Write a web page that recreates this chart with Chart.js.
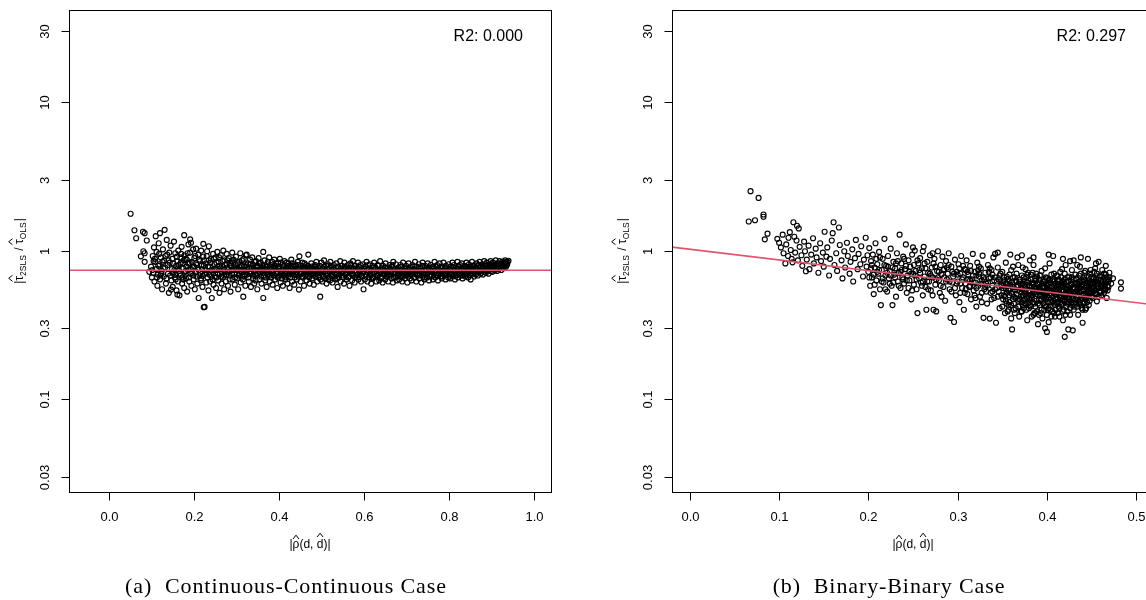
<!DOCTYPE html>
<html>
<head>
<meta charset="utf-8">
<script src="https://cdn.jsdelivr.net/npm/chart.js@4.4.1/dist/chart.umd.min.js"></script>
<style>
html, body { margin: 0; padding: 0; background: #fff; overflow: hidden; }
#wrap { position: relative; width: 1146px; height: 600px; overflow: hidden; }
canvas { position: absolute; top: 0; }
#cLeft { left: 0; }
#cRight { left: 576px; }
.cap { position: absolute; top: 575px; width: 500px; text-align: center; white-space: pre;
       font-family: "Liberation Serif", "Times New Roman", serif; font-size: 22px; line-height: 22px;
       letter-spacing: 0.9px; color: #000; }
</style>
</head>
<body>
<div id="wrap">
  <canvas id="cLeft" width="576" height="600"></canvas>
  <canvas id="cRight" width="600" height="600"></canvas>
  <div class="cap" style="left:36px">(a)  Continuous-Continuous Case</div>
  <div class="cap" style="left:639px">(b)  Binary-Binary Case</div>
</div>
<script>
// axis ticks (shared log y axis)
const yTicks = [0.03, 0.1, 0.3, 1, 3, 10, 30];
const yTickLabels = ['0.03', '0.1', '0.3', '1', '3', '10', '30'];
const contXTicks = [0, 0.2, 0.4, 0.6, 0.8, 1.0];
const contXLabels = ['0.0', '0.2', '0.4', '0.6', '0.8', '1.0'];
const binXTicks = [0, 0.1, 0.2, 0.3, 0.4, 0.5];
const binXLabels = ['0.0', '0.1', '0.2', '0.3', '0.4', '0.5'];

// fitted lines (log10 y linear in x)
const contFitX = [-0.2, 1.2];
const contFitY = [0.737, 0.737];
const binFitX = [-0.1, 0.7];
const binFitY = [1.204, 0.321];

const contR2 = 'R2: 0.000';
const binR2 = 'R2: 0.297';

// (a) continuous-continuous: [|rho|, |tau2sls/tauols|]
const contPts = [
  [0.052,1.77],[0.061,1.37],[0.065,1.21],[0.081,1.34],[0.085,1.31],[0.090,1.17],[0.082,0.99],[0.085,0.96],[0.076,0.915],[0.085,0.84],[0.096,0.72],
  [0.100,0.78],[0.102,0.66],[0.104,0.92],[0.105,0.71],[0.106,0.85],[0.107,1.05],[0.108,0.62],[0.110,0.84],[0.111,1.25],[0.112,0.75],[0.113,0.98],[0.115,0.58],[0.116,0.69],[0.118,1.12],[0.120,0.81],[0.121,1.31],[0.121,0.64],[0.123,0.90],[0.125,0.73],[0.126,0.55],[0.128,1.02],[0.130,0.67],[0.131,0.86],[0.132,1.38],[0.133,0.77],[0.135,0.60],[0.137,1.18],[0.138,0.94],[0.140,0.70],[0.142,0.52],[0.144,0.83],[0.146,1.08],[0.147,0.547],[0.148,0.63],[0.149,0.75],
  [0.150,0.88],[0.151,0.57],[0.153,0.71],[0.154,1.15],[0.156,0.66],[0.157,0.96],[0.159,0.79],[0.160,0.54],[0.162,0.85],[0.162,0.506],[0.163,0.62],[0.164,1.00],[0.166,0.73],[0.167,0.50],[0.169,0.90],[0.170,0.68],[0.172,1.06],[0.173,0.60],[0.175,0.82],[0.176,0.76],[0.178,0.56],[0.178,1.27],[0.179,0.93],[0.181,0.88],[0.182,0.65],[0.184,0.87],[0.185,0.53],[0.187,0.74],[0.188,1.10],[0.190,0.62],[0.192,1.19],[0.192,0.97],[0.193,0.70],[0.194,1.13],[0.195,0.58],[0.196,0.84],[0.198,0.77],[0.199,1.02],
  [0.200,0.64],[0.202,0.89],[0.203,0.55],[0.205,0.72],[0.206,1.03],[0.208,0.80],[0.209,0.60],[0.211,0.94],[0.212,0.48],[0.214,0.68],[0.215,0.85],[0.217,0.63],[0.218,1.00],[0.220,0.75],[0.221,0.57],[0.223,1.11],[0.223,0.91],[0.224,0.416],[0.226,0.418],[0.227,0.70],[0.229,0.82],[0.230,0.61],[0.232,0.99],[0.233,0.66],[0.235,0.54],[0.236,1.07],[0.238,0.78],[0.239,0.62],[0.241,0.88],[0.243,0.48],[0.244,0.72],[0.246,0.95],[0.247,0.59],[0.249,0.81],
  [0.250,0.67],[0.252,0.90],[0.253,0.56],[0.255,0.74],[0.256,0.98],[0.258,0.63],[0.259,0.84],[0.261,0.52],[0.262,0.70],[0.264,0.93],[0.266,0.60],[0.267,0.79],[0.269,0.66],[0.270,1.00],[0.272,0.55],[0.273,0.86],[0.275,0.72],[0.276,0.62],[0.278,0.95],[0.279,0.77],[0.281,0.58],[0.283,0.89],[0.284,0.68],[0.286,0.82],[0.287,0.53],[0.289,0.74],[0.291,0.97],[0.292,0.64],[0.294,0.87],[0.296,0.70],[0.297,0.59],[0.299,0.80],
  [0.300,0.91],[0.302,0.65],[0.303,0.76],[0.305,0.55],[0.307,0.84],[0.308,0.70],[0.310,0.96],[0.311,0.61],[0.313,0.79],[0.315,0.67],[0.317,0.49],[0.318,0.88],[0.320,0.73],[0.322,0.58],[0.323,0.93],[0.325,0.94],[0.326,0.69],[0.328,0.82],[0.330,0.62],[0.331,0.76],[0.333,0.87],[0.335,0.57],[0.336,0.71],[0.338,0.90],[0.340,0.65],[0.341,0.80],[0.343,0.60],[0.345,0.74],[0.347,0.85],[0.348,0.68],
  [0.350,0.55],[0.352,0.78],[0.353,0.89],[0.355,0.64],[0.357,0.72],[0.358,0.83],[0.360,0.60],[0.362,0.76],[0.364,0.98],[0.364,0.48],[0.366,0.68],[0.367,0.86],[0.369,0.63],[0.371,0.74],[0.372,0.57],[0.374,0.81],[0.376,0.69],[0.378,0.90],[0.379,0.62],[0.381,0.77],[0.383,0.66],[0.385,0.84],[0.386,0.59],[0.388,0.72],[0.390,0.87],[0.392,0.64],[0.393,0.79],[0.395,0.70],[0.397,0.56],[0.399,0.83],
  [0.400,0.67],[0.402,0.75],[0.403,0.88],[0.405,0.61],[0.407,0.71],[0.409,0.80],[0.410,0.58],[0.412,0.68],[0.414,0.85],[0.416,0.64],[0.418,0.76],[0.420,0.70],[0.421,0.60],[0.423,0.82],[0.425,0.73],[0.426,0.56],[0.428,0.66],[0.430,0.87],[0.432,0.62],[0.434,0.78],[0.435,0.69],[0.437,0.59],[0.439,0.81],[0.441,0.72],[0.443,0.64],[0.445,0.84],[0.447,0.67],[0.448,0.547],[0.449,0.915],
  [0.450,0.76],[0.452,0.62],[0.454,0.70],[0.456,0.83],[0.458,0.66],[0.460,0.58],[0.462,0.74],[0.464,0.80],[0.466,0.63],[0.468,0.69],[0.470,0.94],[0.471,0.77],[0.473,0.60],[0.475,0.72],[0.477,0.82],[0.479,0.65],[0.481,0.70],[0.483,0.59],[0.485,0.78],[0.487,0.67],[0.489,0.84],[0.491,0.62],[0.493,0.73],[0.495,0.68],[0.497,0.79],[0.498,0.49],[0.499,0.64],
  [0.500,0.71],[0.501,0.83],[0.503,0.62],[0.504,0.76],[0.506,0.68],[0.507,0.86],[0.509,0.65],[0.510,0.73],[0.512,0.79],[0.513,0.60],[0.515,0.70],[0.516,0.81],[0.518,0.66],[0.519,0.75],[0.521,0.63],[0.522,0.84],[0.524,0.69],[0.525,0.77],[0.527,0.61],[0.528,0.72],[0.530,0.80],[0.531,0.67],[0.533,0.74],[0.534,0.64],[0.536,0.82],[0.537,0.70],[0.539,0.57],[0.540,0.78],[0.542,0.66],[0.543,0.73],[0.545,0.85],[0.546,0.62],[0.548,0.71],[0.549,0.79],
  [0.551,0.68],[0.552,0.75],[0.554,0.60],[0.555,0.83],[0.557,0.69],[0.558,0.76],[0.560,0.64],[0.561,0.72],[0.563,0.80],[0.564,0.66],[0.566,0.74],[0.567,0.58],[0.569,0.82],[0.570,0.70],[0.572,0.77],[0.573,0.63],[0.575,0.85],[0.576,0.68],[0.578,0.73],[0.579,0.61],[0.581,0.79],[0.582,0.71],[0.584,0.66],[0.585,0.76],[0.587,0.83],[0.588,0.64],[0.590,0.72],[0.591,0.69],[0.593,0.80],[0.594,0.62],[0.596,0.75],[0.597,0.67],[0.599,0.81],
  [0.600,0.55],[0.601,0.73],[0.603,0.64],[0.604,0.78],[0.606,0.69],[0.607,0.84],[0.609,0.62],[0.610,0.71],[0.612,0.76],[0.613,0.66],[0.615,0.81],[0.616,0.70],[0.618,0.60],[0.619,0.74],[0.621,0.79],[0.622,0.65],[0.624,0.72],[0.625,0.83],[0.627,0.67],[0.628,0.77],[0.630,0.62],[0.631,0.70],[0.633,0.80],[0.634,0.68],[0.636,0.74],[0.637,0.63],[0.639,0.85],[0.640,0.71],[0.642,0.66],[0.643,0.76],[0.645,0.61],[0.646,0.79],[0.648,0.69],[0.649,0.73],
  [0.651,0.64],[0.652,0.82],[0.654,0.70],[0.655,0.67],[0.657,0.77],[0.658,0.62],[0.660,0.74],[0.661,0.80],[0.663,0.68],[0.664,0.72],[0.666,0.65],[0.667,0.78],[0.669,0.61],[0.670,0.84],[0.672,0.70],[0.673,0.75],[0.675,0.66],[0.676,0.81],[0.678,0.63],[0.679,0.73],[0.681,0.69],[0.682,0.77],[0.684,0.64],[0.685,0.71],[0.687,0.80],[0.688,0.67],[0.690,0.74],[0.691,0.62],[0.693,0.83],[0.694,0.70],[0.696,0.76],[0.697,0.65],[0.699,0.72],
  [0.700,0.79],[0.701,0.68],[0.703,0.61],[0.704,0.74],[0.706,0.82],[0.707,0.70],[0.709,0.65],[0.710,0.77],[0.712,0.72],[0.713,0.63],[0.715,0.80],[0.716,0.69],[0.718,0.75],[0.719,0.66],[0.721,0.84],[0.722,0.71],[0.724,0.62],[0.725,0.78],[0.727,0.68],[0.728,0.73],[0.730,0.81],[0.731,0.65],[0.733,0.70],[0.734,0.76],[0.736,0.61],[0.737,0.72],[0.739,0.83],[0.740,0.67],[0.742,0.74],[0.743,0.64],[0.745,0.79],[0.746,0.70],[0.748,0.76],[0.749,0.66],
  [0.751,0.82],[0.752,0.72],[0.754,0.63],[0.755,0.75],[0.757,0.69],[0.758,0.80],[0.760,0.67],[0.761,0.73],[0.763,0.64],[0.764,0.78],[0.766,0.71],[0.767,0.84],[0.769,0.66],[0.770,0.74],[0.772,0.69],[0.773,0.80],[0.775,0.63],[0.776,0.76],[0.778,0.70],[0.779,0.82],[0.781,0.67],[0.782,0.73],[0.784,0.65],[0.785,0.78],[0.787,0.71],[0.788,0.83],[0.790,0.68],[0.791,0.75],[0.793,0.64],[0.794,0.79],[0.796,0.70],[0.797,0.73],[0.799,0.66],
  [0.800,0.81],[0.801,0.69],[0.803,0.75],[0.804,0.65],[0.806,0.78],[0.807,0.71],[0.809,0.83],[0.810,0.67],[0.812,0.74],[0.813,0.80],[0.815,0.64],[0.816,0.72],[0.818,0.77],[0.819,0.69],[0.821,0.84],[0.822,0.66],[0.824,0.75],[0.825,0.71],[0.827,0.80],[0.828,0.68],[0.830,0.73],[0.831,0.82],[0.833,0.65],[0.834,0.77],[0.836,0.70],[0.837,0.79],[0.839,0.67],[0.840,0.74],[0.842,0.83],[0.843,0.69],[0.845,0.76],[0.846,0.66],[0.848,0.81],[0.849,0.72],
  [0.851,0.78],[0.852,0.64],[0.854,0.74],[0.855,0.84],[0.857,0.70],[0.858,0.77],[0.860,0.67],[0.861,0.80],[0.863,0.73],[0.864,0.69],[0.866,0.82],[0.867,0.75],[0.869,0.68],[0.870,0.79],[0.872,0.72],[0.873,0.84],[0.875,0.70],[0.876,0.77],[0.878,0.73],[0.879,0.81],[0.881,0.69],[0.882,0.76],[0.884,0.85],[0.885,0.72],[0.887,0.79],[0.888,0.71],[0.890,0.83],[0.891,0.74],[0.893,0.77],[0.894,0.70],[0.896,0.81],[0.897,0.75],[0.899,0.85],
  [0.900,0.73],[0.902,0.79],[0.903,0.72],[0.905,0.83],[0.906,0.76],[0.908,0.80],[0.909,0.74],[0.911,0.86],[0.912,0.77],[0.914,0.73],[0.915,0.82],[0.917,0.79],[0.918,0.75],[0.920,0.85],[0.921,0.77],[0.923,0.81],[0.924,0.74],[0.926,0.84],[0.927,0.79],[0.929,0.76],[0.930,0.83],[0.932,0.80],[0.933,0.86],[0.935,0.78],[0.936,0.84],[0.938,0.81],[0.941,0.855],
  // denser core of the cloud
  [0.103,0.74],[0.109,0.88],[0.114,0.66],[0.119,0.95],[0.124,0.70],[0.127,0.84],[0.134,0.92],[0.136,0.65],[0.139,0.80],[0.143,0.97],[0.145,0.68],[0.152,0.82],[0.155,0.74],[0.158,0.64],[0.161,0.91],[0.165,0.80],[0.168,0.70],[0.171,0.95],[0.174,0.66],[0.177,0.86],[0.180,0.72],[0.183,0.78],[0.186,0.96],[0.189,0.66],[0.191,0.83],[0.197,0.71],
  [0.201,0.78],[0.204,0.92],[0.207,0.67],[0.210,0.76],[0.213,0.87],[0.216,0.71],[0.219,0.80],[0.222,0.68],[0.225,0.86],[0.228,0.74],[0.231,0.92],[0.234,0.78],[0.237,0.69],[0.240,0.83],[0.242,0.74],[0.245,0.64],[0.248,0.88],[0.251,0.76],[0.254,0.83],[0.257,0.70],[0.260,0.90],[0.263,0.76],[0.265,0.67],[0.268,0.85],[0.271,0.74],[0.274,0.80],[0.277,0.69],[0.280,0.86],[0.282,0.74],[0.285,0.64],[0.288,0.79],[0.290,0.70],[0.293,0.83],[0.295,0.76],[0.298,0.66],
  [0.301,0.74],[0.304,0.82],[0.306,0.68],[0.309,0.77],[0.312,0.72],[0.314,0.86],[0.316,0.64],[0.319,0.78],[0.321,0.69],[0.324,0.80],[0.327,0.75],[0.329,0.66],[0.332,0.72],[0.334,0.81],[0.337,0.77],[0.339,0.68],[0.342,0.73],[0.344,0.84],[0.346,0.63],[0.349,0.78],
  [0.351,0.70],[0.354,0.82],[0.356,0.75],[0.359,0.67],[0.361,0.80],[0.363,0.71],[0.365,0.77],[0.368,0.74],[0.370,0.66],[0.373,0.78],[0.375,0.84],[0.377,0.72],[0.380,0.68],[0.382,0.80],[0.384,0.74],[0.387,0.78],[0.389,0.68],[0.391,0.75],[0.394,0.82],[0.396,0.72],[0.398,0.66],
  [0.401,0.78],[0.404,0.73],[0.406,0.83],[0.408,0.65],[0.411,0.74],[0.413,0.79],[0.415,0.70],[0.417,0.66],[0.419,0.83],[0.422,0.75],[0.424,0.79],[0.427,0.70],[0.429,0.76],[0.431,0.82],[0.433,0.71],[0.436,0.74],[0.438,0.66],[0.440,0.79],[0.442,0.76],[0.444,0.70],[0.446,0.80],
  [0.451,0.72],[0.453,0.79],[0.455,0.67],[0.457,0.75],[0.459,0.71],[0.461,0.82],[0.463,0.68],[0.465,0.76],[0.467,0.73],[0.469,0.79],[0.472,0.66],[0.474,0.76],[0.476,0.70],[0.478,0.78],[0.480,0.74],[0.482,0.68],[0.484,0.72],[0.486,0.80],[0.488,0.75],[0.490,0.70],[0.492,0.77],[0.494,0.66],[0.496,0.73],
  [0.502,0.74],[0.505,0.67],[0.508,0.78],[0.511,0.70],[0.514,0.75],[0.517,0.64],[0.520,0.72],[0.523,0.79],[0.526,0.68],[0.529,0.75],[0.532,0.71],[0.535,0.77],[0.538,0.65],[0.541,0.73],[0.544,0.69],[0.547,0.76],[0.550,0.72],[0.553,0.66],[0.556,0.78],[0.559,0.70],[0.562,0.75],[0.565,0.67],[0.568,0.73],[0.571,0.80],[0.574,0.70],[0.577,0.76],[0.580,0.66],[0.583,0.72],[0.586,0.69],[0.589,0.78],[0.592,0.74],[0.595,0.68],[0.598,0.71],
  [0.602,0.76],[0.605,0.67],[0.608,0.74],[0.611,0.80],[0.614,0.69],[0.617,0.73],[0.620,0.66],[0.623,0.77],[0.626,0.71],[0.629,0.75],[0.632,0.68],[0.635,0.79],[0.638,0.72],[0.641,0.65],[0.644,0.74],[0.647,0.70],[0.650,0.77],[0.653,0.67],[0.656,0.73],[0.659,0.69],[0.662,0.76],[0.665,0.71],[0.668,0.80],[0.671,0.66],[0.674,0.72],[0.677,0.75],[0.680,0.68],[0.683,0.74],[0.686,0.70],[0.689,0.78],[0.692,0.67],[0.695,0.73],[0.698,0.76],
  [0.702,0.71],[0.705,0.67],[0.708,0.75],[0.711,0.69],[0.714,0.78],[0.717,0.72],[0.720,0.66],[0.723,0.74],[0.726,0.70],[0.729,0.77],[0.732,0.68],[0.735,0.73],[0.738,0.79],[0.741,0.70],[0.744,0.66],[0.747,0.74],[0.750,0.71],[0.753,0.77],[0.756,0.67],[0.759,0.73],[0.762,0.76],[0.765,0.69],[0.768,0.72],[0.771,0.78],[0.774,0.68],[0.777,0.74],[0.780,0.71],[0.783,0.76],[0.786,0.67],[0.789,0.73],[0.792,0.70],[0.795,0.77],[0.798,0.72],
  [0.802,0.67],[0.805,0.74],[0.808,0.70],[0.811,0.77],[0.814,0.72],[0.817,0.68],[0.820,0.75],[0.823,0.79],[0.826,0.70],[0.829,0.74],[0.832,0.68],[0.835,0.76],[0.838,0.72],[0.841,0.78],[0.844,0.70],[0.847,0.74],[0.850,0.68],[0.853,0.77],[0.856,0.73],[0.859,0.79],[0.862,0.71],[0.865,0.76],[0.868,0.73],[0.871,0.80],[0.874,0.74],[0.877,0.71],[0.880,0.78],[0.883,0.74],[0.886,0.81],[0.889,0.76],[0.892,0.73],[0.895,0.79],[0.898,0.77],
  [0.901,0.82],[0.904,0.76],[0.907,0.79],[0.910,0.75],[0.913,0.81],[0.916,0.77],[0.919,0.80],[0.922,0.78],[0.925,0.82],[0.928,0.80],[0.931,0.78],[0.934,0.82],[0.937,0.80],[0.939,0.84],
  [0.117,0.79],[0.122,0.68],[0.129,0.76],[0.141,0.86],[0.150,0.71],[0.157,0.69],[0.163,0.76],[0.170,0.83],[0.176,0.64],[0.182,0.73],[0.188,0.82],[0.194,0.75],[0.199,0.68],[0.206,0.82],[0.212,0.74],[0.218,0.65],[0.224,0.79],[0.230,0.71],[0.236,0.86],[0.242,0.67],[0.248,0.74],[0.254,0.66],[0.260,0.79],[0.266,0.72],[0.272,0.68],[0.278,0.81],[0.284,0.72],[0.290,0.85],[0.296,0.74],
  [0.302,0.70],[0.308,0.80],[0.314,0.73],[0.320,0.67],[0.326,0.78],[0.332,0.70],[0.338,0.76],[0.344,0.69],[0.350,0.79],[0.356,0.70],[0.362,0.73],[0.368,0.80],[0.374,0.69],[0.380,0.76],[0.386,0.71],[0.392,0.77],[0.398,0.72],[0.404,0.68],[0.410,0.76],[0.416,0.73],[0.422,0.67],[0.428,0.79],[0.434,0.72],[0.440,0.69],[0.446,0.75],[0.452,0.70],[0.458,0.77],[0.464,0.72],[0.470,0.67],[0.476,0.75],[0.482,0.71],[0.488,0.78],[0.494,0.71]
];

// (b) binary-binary
const binPts = [
  [0.068,2.51],[0.077,2.26],[0.0825,1.75],[0.0825,1.69],[0.066,1.57],[0.073,1.60],[0.087,1.30],[0.084,1.19],[0.098,1.20],[0.100,1.13],[0.104,1.28],[0.107,0.82],
  [0.102,1.05],[0.105,0.96],[0.108,1.10],[0.110,0.92],[0.1105,1.22],[0.112,1.33],[0.113,1.01],[0.114,0.88],[0.115,0.834],[0.116,1.55],[0.117,1.24],[0.118,0.97],[0.1195,1.17],[0.120,1.47],[0.121,0.86],[0.122,1.41],[0.123,1.06],[0.125,0.93],[0.126,0.79],[0.128,1.15],[0.129,0.99],[0.130,0.726],[0.131,0.87],[0.133,1.08],[0.134,0.75],[0.136,0.94],[0.138,1.21],[0.139,0.82],[0.141,1.03],[0.142,0.90],[0.144,0.71],[0.146,1.12],[0.147,0.85],[0.149,0.97],
  [0.150,0.78],[0.151,1.34],[0.153,0.91],[0.154,1.05],[0.156,0.68],[0.157,0.88],[0.159,1.17],[0.160,1.31],[0.161,1.55],[0.162,0.80],[0.164,0.96],[0.165,0.73],[0.167,1.43],[0.168,1.09],[0.170,0.86],[0.171,0.65],[0.173,0.99],[0.174,0.77],[0.176,1.13],[0.177,0.92],[0.179,0.70],[0.180,0.84],[0.182,1.02],[0.183,0.62],[0.185,0.89],[0.186,1.18],[0.188,0.75],[0.189,0.95],[0.191,0.81],[0.192,1.07],[0.194,0.67],[0.195,0.87],[0.197,1.22],[0.198,0.78],[0.199,0.93],
  [0.200,0.72],[0.201,1.04],[0.202,0.58],[0.203,0.85],[0.204,0.66],[0.205,0.94],[0.206,0.51],[0.207,0.77],[0.208,1.12],[0.209,0.63],[0.210,0.81],[0.211,0.70],[0.212,0.98],[0.213,0.55],[0.214,0.43],[0.215,0.74],[0.216,0.88],[0.217,0.61],[0.218,1.20],[0.219,0.68],[0.220,0.79],[0.221,0.53],[0.222,0.92],[0.223,0.65],[0.224,0.73],[0.225,1.03],[0.226,0.58],[0.227,0.43],[0.228,0.84],[0.229,0.69],[0.230,0.76],[0.231,0.49],[0.232,0.96],[0.233,0.62],[0.234,0.71],[0.235,1.28],[0.236,0.56],[0.237,0.82],[0.238,0.66],[0.239,0.91],[0.240,0.60],[0.241,0.75],[0.242,1.10],[0.243,0.52],[0.244,0.68],[0.245,0.86],[0.246,0.63],[0.247,0.78],[0.248,0.47],[0.249,0.94],
  [0.250,0.70],[0.250,1.05],[0.251,0.59],[0.252,1.00],[0.253,0.73],[0.254,0.55],[0.255,0.38],[0.256,0.82],[0.257,0.65],[0.258,0.89],[0.259,0.61],[0.260,0.76],[0.261,0.99],[0.261,0.50],[0.262,1.06],[0.263,0.67],[0.264,0.57],[0.265,0.40],[0.266,0.84],[0.267,0.71],[0.268,0.62],[0.269,0.93],[0.270,0.54],[0.271,0.77],[0.272,0.96],[0.272,0.66],[0.273,0.40],[0.274,0.88],[0.275,0.59],[0.276,0.39],[0.277,0.73],[0.278,0.99],[0.279,0.63],[0.280,0.52],[0.281,0.80],[0.282,0.69],[0.283,0.91],[0.284,0.57],[0.285,0.75],[0.286,0.46],[0.287,0.85],[0.288,0.64],[0.289,0.70],[0.290,0.96],[0.291,0.55],[0.292,0.353],[0.293,0.78],[0.294,0.61],[0.295,0.67],[0.296,0.331],[0.297,0.87],[0.298,0.50],[0.299,0.72],
  [0.300,0.62],[0.301,0.81],[0.302,0.45],[0.303,0.70],[0.303,0.52],[0.304,0.92],[0.305,0.56],[0.306,0.66],[0.307,0.40],[0.308,0.75],[0.309,0.60],[0.309,0.74],[0.310,0.86],[0.311,0.51],[0.312,0.69],[0.313,0.57],[0.314,0.79],[0.314,0.63],[0.315,0.47],[0.316,0.64],[0.317,0.95],[0.318,0.54],[0.319,0.72],[0.319,0.50],[0.320,0.61],[0.321,0.42],[0.321,0.68],[0.322,0.83],[0.323,0.58],[0.324,0.67],[0.324,0.78],[0.325,0.49],[0.326,0.76],[0.327,0.63],[0.327,0.45],[0.328,0.925],[0.329,0.353],[0.330,0.55],[0.331,0.71],[0.331,0.57],[0.332,0.60],[0.333,0.44],[0.334,0.80],[0.334,0.61],[0.335,0.65],[0.336,0.349],[0.337,0.52],[0.337,0.66],[0.338,0.74],[0.339,0.58],[0.339,0.69],[0.340,0.90],[0.341,0.48],[0.342,0.95],[0.342,0.55],[0.343,0.327],[0.344,0.62],[0.345,0.97],[0.345,0.77],[0.346,0.53],[0.346,0.64],[0.347,0.41],[0.348,0.70],[0.349,0.59],
  [0.350,0.72],[0.351,0.47],[0.352,0.58],[0.352,0.66],[0.353,0.38],[0.354,0.83],[0.354,0.60],[0.355,0.52],[0.355,0.44],[0.356,0.64],[0.357,0.43],[0.357,0.54],[0.358,0.69],[0.358,0.50],[0.359,0.55],[0.359,0.94],[0.360,0.35],[0.360,0.74],[0.361,0.61],[0.361,0.295],[0.362,0.78],[0.362,0.57],[0.363,0.49],[0.363,0.40],[0.364,0.66],[0.365,0.41],[0.365,0.48],[0.366,0.57],[0.366,0.70],[0.367,0.90],[0.368,0.46],[0.368,0.80],[0.369,0.62],[0.369,0.36],[0.370,0.53],
  [0.371,0.39],[0.371,0.56],[0.371,0.49],[0.372,0.68],[0.372,0.45],[0.372,0.93],[0.373,0.50],[0.373,0.77],[0.373,0.60],[0.374,0.59],[0.374,0.41],[0.375,0.44],[0.375,0.62],[0.375,0.53],[0.376,0.75],[0.376,0.51],[0.377,0.55],[0.377,0.40],[0.377,0.66],[0.378,0.34],[0.378,0.69],[0.379,0.63],[0.379,0.53],[0.379,0.45],[0.380,0.48],[0.380,0.58],[0.381,0.86],[0.381,0.43],[0.381,0.54],[0.382,0.42],[0.382,0.64],[0.383,0.57],[0.383,0.36],[0.383,0.48],[0.384,0.71],[0.384,0.50],[0.385,0.37],[0.385,0.80],[0.385,0.59],[0.385,0.90],[0.386,0.52],[0.386,0.44],[0.387,0.65],[0.387,0.55],[0.387,0.42],[0.388,0.46],[0.388,0.70],[0.389,0.60],[0.389,0.39],[0.389,0.67],[0.390,0.32],[0.390,0.54],
  [0.391,0.47],[0.391,0.56],[0.391,0.37],[0.392,0.61],[0.392,0.43],[0.392,0.50],[0.393,0.38],[0.393,0.68],[0.393,0.54],[0.394,0.73],[0.394,0.50],[0.395,0.52],[0.395,0.35],[0.395,0.60],[0.396,0.44],[0.396,0.62],[0.396,0.53],[0.397,0.57],[0.397,0.48],[0.397,0.40],[0.398,0.30],[0.398,0.76],[0.399,0.66],[0.399,0.42],[0.399,0.52],[0.400,0.49],[0.400,0.284],[0.400,0.58],[0.400,0.65],[0.401,0.59],[0.401,0.53],[0.401,0.45],[0.402,0.41],[0.402,0.33],[0.402,0.94],[0.403,0.82],[0.403,0.64],[0.403,0.50],[0.404,0.54],[0.404,0.45],[0.404,0.61],[0.405,0.36],[0.405,0.57],[0.405,0.69],[0.406,0.63],[0.406,0.39],[0.407,0.46],[0.407,0.92],[0.407,0.55],[0.408,0.70],[0.408,0.52],[0.408,0.44],[0.409,0.51],[0.409,0.60],[0.409,0.43],[0.410,0.40],[0.410,0.47],
  [0.411,0.55],[0.411,0.45],[0.411,0.68],[0.412,0.38],[0.412,0.60],[0.412,0.48],[0.413,0.64],[0.413,0.52],[0.413,0.42],[0.414,0.49],[0.414,0.36],[0.414,0.63],[0.415,0.72],[0.415,0.57],[0.415,0.50],[0.416,0.43],[0.416,0.66],[0.416,0.54],[0.417,0.58],[0.417,0.44],[0.417,0.75],[0.418,0.34],[0.418,0.53],[0.418,0.47],[0.418,0.88],[0.419,0.61],[0.419,0.40],[0.419,0.54],[0.420,0.263],[0.420,0.51],[0.420,0.70],[0.420,0.60],[0.421,0.80],[0.421,0.50],[0.421,0.37],[0.422,0.46],[0.422,0.62],[0.422,0.55],[0.423,0.57],[0.423,0.39],[0.423,0.66],[0.424,0.295],[0.424,0.55],[0.424,0.49],[0.425,0.67],[0.425,0.47],[0.425,0.58],[0.426,0.41],[0.426,0.85],[0.426,0.51],[0.427,0.53],[0.427,0.60],[0.427,0.45],[0.428,0.74],[0.428,0.43],[0.428,0.59],[0.429,0.291],[0.429,0.56],[0.429,0.52],[0.430,0.48],[0.430,0.64],[0.430,0.40],[0.430,0.86],
  [0.431,0.56],[0.431,0.42],[0.432,0.69],[0.432,0.53],[0.433,0.44],[0.433,0.65],[0.433,0.52],[0.434,0.60],[0.434,0.48],[0.434,0.80],[0.435,0.37],[0.435,0.59],[0.436,0.52],[0.436,0.45],[0.436,0.62],[0.437,0.78],[0.437,0.56],[0.438,0.47],[0.438,0.70],[0.438,0.58],[0.438,0.90],[0.439,0.63],[0.439,0.50],[0.439,0.41],[0.440,0.327],[0.440,0.62],[0.440,0.40],[0.441,0.55],[0.441,0.44],[0.441,0.64],[0.442,0.71],[0.442,0.54],[0.442,0.48],[0.443,0.40],[0.443,0.73],[0.444,0.58],[0.444,0.47],[0.444,0.53],[0.445,0.49],[0.445,0.60],[0.445,0.68],[0.446,0.88],[0.446,0.52],[0.447,0.43],[0.447,0.67],[0.447,0.57],[0.448,0.61],[0.448,0.46],[0.448,0.51],[0.449,0.53],[0.449,0.74],[0.450,0.66],[0.450,0.55],
  [0.451,0.48],[0.452,0.60],[0.452,0.53],[0.453,0.72],[0.454,0.51],[0.454,0.76],[0.455,0.64],[0.455,0.82],[0.456,0.456],[0.456,0.62],[0.457,0.58],[0.458,0.84],[0.458,0.49],[0.459,0.53],[0.460,0.67],[0.460,0.57],[0.461,0.50],[0.462,0.61],[0.462,0.74],[0.463,0.56],[0.464,0.70],[0.464,0.60],[0.465,0.54],[0.466,0.63],[0.466,0.55],[0.466,0.79],[0.467,0.48],[0.468,0.58],[0.469,0.62],[0.470,0.66],[0.470,0.71],[0.472,0.60],[0.474,0.65],[0.483,0.612],[0.483,0.555],
  // denser core of the cloud
  [0.203,0.76],[0.206,0.69],[0.209,0.88],[0.212,0.74],[0.215,0.62],[0.218,0.80],[0.221,0.71],[0.224,0.60],[0.227,0.77],[0.230,0.66],[0.233,0.85],[0.236,0.72],[0.239,0.64],[0.242,0.79],[0.245,0.56],[0.248,0.70],
  [0.251,0.80],[0.254,0.64],[0.257,0.74],[0.260,0.58],[0.263,0.82],[0.266,0.62],[0.269,0.70],[0.272,0.50],[0.275,0.78],[0.278,0.66],[0.281,0.58],[0.284,0.74],[0.287,0.62],[0.290,0.80],[0.293,0.53],[0.296,0.70],[0.299,0.60],
  [0.302,0.76],[0.305,0.64],[0.308,0.52],[0.311,0.72],[0.314,0.58],[0.317,0.68],[0.320,0.48],[0.323,0.74],[0.326,0.60],[0.329,0.66],[0.332,0.53],[0.335,0.72],[0.338,0.47],[0.341,0.63],[0.344,0.56],[0.347,0.68],[0.349,0.50],
  [0.350,0.58],[0.350,0.42],[0.352,0.50],[0.352,0.63],[0.354,0.46],[0.354,0.55],[0.356,0.60],[0.356,0.39],[0.358,0.45],[0.358,0.62],[0.360,0.52],[0.360,0.43],[0.362,0.66],[0.362,0.47],[0.364,0.55],[0.364,0.38],[0.366,0.51],[0.366,0.62],[0.368,0.42],[0.368,0.58],[0.370,0.64],[0.370,0.47],
  [0.372,0.55],[0.372,0.39],[0.374,0.50],[0.374,0.66],[0.376,0.44],[0.376,0.58],[0.378,0.61],[0.378,0.48],[0.380,0.53],[0.380,0.41],[0.382,0.69],[0.382,0.50],[0.384,0.45],[0.384,0.60],[0.386,0.57],[0.386,0.38],[0.388,0.51],[0.388,0.63],[0.390,0.44],[0.390,0.59],
  [0.392,0.55],[0.392,0.68],[0.394,0.40],[0.394,0.47],[0.396,0.58],[0.396,0.49],[0.398,0.63],[0.398,0.43],[0.400,0.54],[0.400,0.37],[0.402,0.60],[0.402,0.48],[0.404,0.40],[0.404,0.52],[0.406,0.57],[0.406,0.45],[0.408,0.62],[0.408,0.38],[0.410,0.53],[0.410,0.58],
  [0.412,0.44],[0.412,0.67],[0.414,0.55],[0.414,0.41],[0.416,0.48],[0.416,0.60],[0.418,0.57],[0.418,0.39],[0.420,0.46],[0.420,0.64],[0.422,0.51],[0.422,0.42],[0.424,0.62],[0.424,0.45],[0.426,0.56],[0.426,0.37],[0.428,0.49],[0.428,0.66],[0.430,0.55],[0.430,0.44],
  [0.432,0.60],[0.432,0.47],[0.434,0.42],[0.434,0.54],[0.436,0.57],[0.436,0.68],[0.438,0.50],[0.438,0.43],[0.440,0.59],[0.440,0.48],[0.442,0.45],[0.442,0.63],[0.444,0.56],[0.444,0.41],[0.446,0.61],[0.446,0.50],[0.448,0.55],[0.448,0.70],[0.450,0.49],[0.450,0.60],
  [0.452,0.66],[0.452,0.57],[0.454,0.54],[0.454,0.62],[0.456,0.51],[0.456,0.70],[0.458,0.60],[0.458,0.56],[0.460,0.52],[0.460,0.63],[0.462,0.58],[0.462,0.67],[0.464,0.55],[0.464,0.52],[0.466,0.60],[0.466,0.69],[0.468,0.64],[0.468,0.54],
  [0.201,0.66],[0.204,0.80],[0.207,0.59],[0.210,0.72],[0.213,0.90],[0.216,0.65],[0.219,0.55],[0.222,0.78],[0.225,0.68],[0.228,0.61],[0.231,0.82],[0.234,0.58],[0.237,0.74],[0.240,0.88],[0.243,0.63],[0.246,0.72],[0.249,0.54],
  [0.252,0.68],[0.255,0.86],[0.258,0.71],[0.261,0.62],[0.264,0.76],[0.267,0.55],[0.270,0.68],[0.273,0.82],[0.276,0.64],[0.279,0.72],[0.282,0.49],[0.285,0.66],[0.288,0.77],[0.291,0.62],[0.294,0.72],[0.297,0.56],
  [0.300,0.69],[0.303,0.60],[0.306,0.79],[0.309,0.55],[0.312,0.64],[0.315,0.73],[0.318,0.61],[0.321,0.56],[0.324,0.70],[0.327,0.52],[0.330,0.64],[0.333,0.58],[0.336,0.76],[0.339,0.53],[0.342,0.66],[0.345,0.49],[0.348,0.62],
  [0.351,0.56],[0.353,0.49],[0.355,0.67],[0.357,0.40],[0.359,0.59],[0.361,0.51],[0.363,0.44],[0.365,0.63],[0.367,0.54],[0.369,0.47],[0.371,0.60],[0.373,0.43],[0.375,0.57],[0.377,0.49],[0.379,0.71],[0.381,0.47],[0.383,0.61],[0.385,0.52],[0.387,0.38],[0.389,0.56],
  [0.391,0.64],[0.393,0.46],[0.395,0.56],[0.397,0.62],[0.399,0.47],[0.401,0.40],[0.403,0.57],[0.405,0.50],[0.407,0.64],[0.409,0.36],[0.411,0.51],[0.413,0.58],[0.415,0.45],[0.417,0.62],[0.419,0.49],[0.421,0.56],[0.423,0.44],[0.425,0.52],[0.427,0.64],[0.429,0.47],
  [0.431,0.60],[0.433,0.49],[0.435,0.55],[0.437,0.44],[0.439,0.57],[0.441,0.50],[0.443,0.62],[0.445,0.45],[0.447,0.52],[0.449,0.59],[0.451,0.56],[0.453,0.65],[0.455,0.52],[0.457,0.61],[0.459,0.68],[0.461,0.57],[0.463,0.63],[0.465,0.58],[0.467,0.66],[0.469,0.57]
];

// draws the R-style frame, ticks, labels and math titles
const rAxes = {
  id: 'rAxes',
  afterDatasetsDraw(chart, args, o) {
    const {ctx, chartArea: a, scales} = chart;
    const sx = scales.x, sy = scales.y;
    const L = Math.round(a.left) + 0.5, T = Math.round(a.top) + 0.5;
    const R = Math.round(a.right) + 0.5, B = Math.round(a.bottom) + 0.5;
    ctx.save();
    ctx.strokeStyle = '#000';
    ctx.fillStyle = '#000';
    ctx.lineWidth = 1;
    ctx.strokeRect(L, T, R - L, B - T);

    ctx.font = '13px "Liberation Sans", Arial, sans-serif';
    ctx.textAlign = 'center';
    ctx.textBaseline = 'middle';
    o.xTicks.forEach((v, i) => {
      const px = Math.round(sx.getPixelForValue(v)) + 0.5;
      ctx.beginPath(); ctx.moveTo(px, B); ctx.lineTo(px, B + 8); ctx.stroke();
      ctx.fillText(o.xLabels[i], px, B + 25);
    });
    yTicks.forEach((v, i) => {
      const py = Math.round(sy.getPixelForValue(v)) + 0.5;
      ctx.beginPath(); ctx.moveTo(L - 8, py); ctx.lineTo(L, py); ctx.stroke();
      ctx.save();
      ctx.translate(L - 24, py);
      ctx.rotate(-Math.PI / 2);
      ctx.fillText(yTickLabels[i], 0, 0);
      ctx.restore();
    });

    // R2 note
    ctx.font = '16px "Liberation Sans", Arial, sans-serif';
    ctx.textAlign = 'right';
    ctx.fillText(o.r2, a.right - 28, a.top + 27);

    // x title |rho-hat(d, d-hat)|
    ctx.textBaseline = 'alphabetic';
    ctx.textAlign = 'left';
    const xs = [['|', 0], ['\u03c1', 8.5], ['(d, ', 0], ['d', 10.5], [')|', 0]];
    drawMath(ctx, xs, (a.left + a.right) / 2, B + 55, 0);

    // y title |tau-hat_2SLS / tau-hat_OLS|
    ctx.save();
    ctx.translate(L - 47, (a.top + a.bottom) / 2);
    ctx.rotate(-Math.PI / 2);
    const ys = [['|', 0], ['\u03c4', 10], ['2SLS', 0, true], [' / ', 0], ['\u03c4', 10], ['OLS', 0, true], ['|', 0]];
    drawMath(ctx, ys, 0, 0, 1);
    ctx.restore();
    ctx.restore();
  }
};

// segments: [text, hatHeight (0 = no hat), subscript]
function drawMath(ctx, segs, cx, by, pad) {
  const big = '12px "Liberation Sans", Arial, sans-serif';
  const small = '8.5px "Liberation Sans", Arial, sans-serif';
  const widths = segs.map(s => { ctx.font = s[2] ? small : big; return ctx.measureText(s[0]).width + (s[2] ? pad : 0); });
  let x = cx - widths.reduce((p, w) => p + w, 0) / 2;
  segs.forEach((s, i) => {
    ctx.font = s[2] ? small : big;
    ctx.fillText(s[0], x, by + (s[2] ? 3 : 0));
    if (s[1]) {
      const mx = x + widths[i] / 2;
      ctx.lineWidth = 1;
      ctx.beginPath();
      ctx.moveTo(mx - 3, by - s[1]);
      ctx.lineTo(mx, by - s[1] - 3.8);
      ctx.lineTo(mx + 3, by - s[1]);
      ctx.stroke();
    }
    x += widths[i];
  });
}

function makePanel(id, pts, fitX, fitY, xMin, xMax, pad, xTicks, xLabels, r2) {
  return new Chart(document.getElementById(id), {
    type: 'scatter',
    data: {
      datasets: [
        {
          data: fitX.map((x, i) => ({x: x, y: fitY[i]})),
          showLine: true,
          borderColor: '#DF536B',
          borderWidth: 1.6,
          pointRadius: 0
        },
        {
          data: pts.map(p => ({x: p[0], y: p[1]})),
          pointRadius: 2.5,
          pointBorderWidth: 1.15,
          pointBorderColor: '#000',
          pointBackgroundColor: 'rgba(0,0,0,0)'
        }
      ]
    },
    options: {
      responsive: false,
      animation: false,
      devicePixelRatio: 1,
      events: [],
      layout: {padding: pad},
      plugins: {
        legend: {display: false},
        tooltip: {enabled: false},
        rAxes: {xTicks: xTicks, xLabels: xLabels, r2: r2}
      },
      scales: {
        x: {type: 'linear', min: xMin, max: xMax, display: false},
        y: {type: 'logarithmic', min: 0.0238, max: 41.5, display: false, bounds: 'data'}
      }
    },
    plugins: [rAxes]
  });
}

makePanel('cLeft', contPts, contFitX, contFitY, -0.093, 1.041,
  {left: 69, right: 25, top: 10, bottom: 108}, contXTicks, contXLabels, contR2);
makePanel('cRight', binPts, binFitX, binFitY, -0.02, 0.52,
  {left: 96, right: 22, top: 10, bottom: 108}, binXTicks, binXLabels, binR2);
</script>
</body>
</html>
